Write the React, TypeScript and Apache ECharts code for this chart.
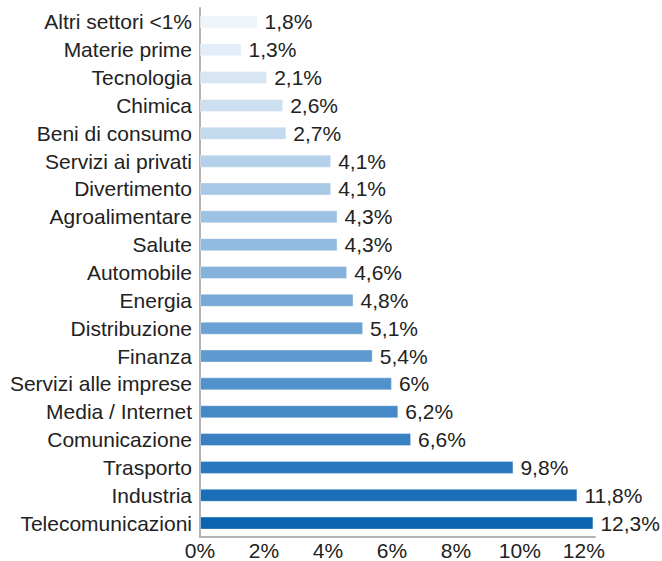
import React, { useEffect, useRef } from "react";
import * as echarts from "echarts";

const categories = [
  "Altri settori <1%",
  "Materie prime",
  "Tecnologia",
  "Chimica",
  "Beni di consumo",
  "Servizi ai privati",
  "Divertimento",
  "Agroalimentare",
  "Salute",
  "Automobile",
  "Energia",
  "Distribuzione",
  "Finanza",
  "Servizi alle imprese",
  "Media / Internet",
  "Comunicazione",
  "Trasporto",
  "Industria",
  "Telecomunicazioni",
];

const values = [1.8, 1.3, 2.1, 2.6, 2.7, 4.1, 4.1, 4.3, 4.3, 4.6, 4.8, 5.1, 5.4, 6, 6.2, 6.6, 9.8, 11.8, 12.3];

const barColors = [
  "#eef4fa", "#e3edf7", "#d8e6f4", "#cde0f1", "#c2d9ee", "#b4d0ea", "#a8c9e6",
  "#9cc1e2", "#90badf", "#84b2db", "#77aad7", "#6ba2d3", "#5e9acf", "#5292cb",
  "#4589c7", "#3980c3", "#2977bd", "#1a6db6", "#0b64b0",
];

const tickValues = [0, 2, 4, 6, 8, 10, 12];

export default function App() {
  const ref = useRef<HTMLDivElement>(null);
  useEffect(() => {
    if (!ref.current) return;
    const chart = echarts.init(ref.current, null, { renderer: "svg" });
    const font = "'Liberation Sans', Arial, Helvetica, sans-serif";
    chart.setOption({
      animation: false,
      grid: { left: 200, right: 67, top: 8, bottom: 24, containLabel: false },
      xAxis: {
        type: "value",
        min: 0,
        max: 12.35,
        interval: 2,
        splitLine: { show: false },
        axisTick: { show: false },
        axisLine: { show: true, lineStyle: { color: "#b3b3b3", width: 2 } },
        axisLabel: {
          showMaxLabel: false,
          margin: 3,
          fontSize: 21,
          fontFamily: font,
          color: "#222",
          formatter: (v: number) => (tickValues.includes(v) ? v + "%" : ""),
        },
      },
      yAxis: {
        type: "category",
        data: categories,
        inverse: true,
        axisTick: { show: false },
        axisLine: { show: true, lineStyle: { color: "#b3b3b3", width: 2 } },
        axisLabel: { margin: 8, fontSize: 21, fontFamily: font, color: "#222" },
      },
      series: [
        {
          type: "bar",
          barWidth: 13,
          data: values.map((v, i) => ({
            value: v,
            itemStyle: { color: barColors[i], borderColor: "rgba(255,255,255,0.35)", borderWidth: 1 },
          })),
          label: {
            show: true,
            position: "right",
            distance: 7,
            fontSize: 21,
            fontFamily: font,
            color: "#222",
            formatter: (p: any) => String(p.value).replace(".", ",") + "%",
          },
        },
      ],
    });
    return () => chart.dispose();
  }, []);
  return (
    <div
      ref={ref}
      style={{ position: "fixed", left: 0, top: 0, width: 662, height: 561, background: "#fff" }}
    />
  );
}
